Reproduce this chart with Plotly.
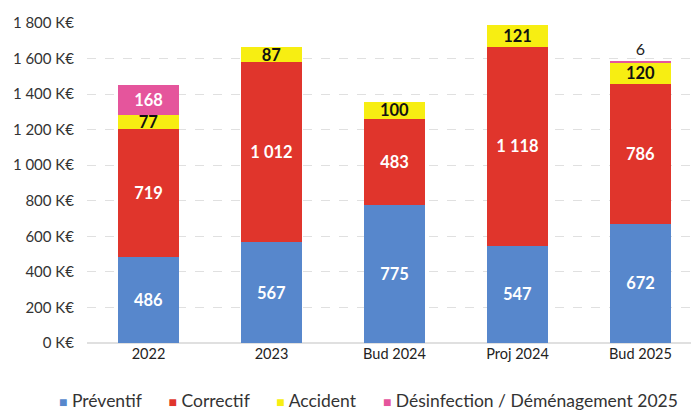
import plotly.graph_objects as go

categories = ['2022', '2023', 'Bud 2024', 'Proj 2024', 'Bud 2025']
preventif = [486, 567, 775, 547, 672]
correctif = [719, 1012, 483, 1118, 786]
accident = [77, 87, 100, 121, 120]
desinfection = [168, None, None, None, 6]

tick_vals = [0, 200, 400, 600, 800, 1000, 1200, 1400, 1600, 1800]
tick_text = ['0 K€', '200 K€', '400 K€', '600 K€', '800 K€', '1 000 K€',
             '1 200 K€', '1 400 K€', '1 600 K€', '1 800 K€']

FONT = 'Lato, Open Sans, sans-serif'

series = [
    ('Préventif', preventif, '#5787cc', 'white', 'inside'),
    ('Correctif', correctif, '#e0352c', 'white', 'inside'),
    ('Accident', accident, '#f7ee12', '#111111', 'inside'),
    ('Désinfection / Déménagement 2025', desinfection, '#e5559c', 'white',
     ['inside', 'inside', 'inside', 'inside', 'outside']),
]


def fmt(v):
    if v is None:
        return ''
    return f'{v:,}'.replace(',', ' ')


fig = go.Figure()
for name, values, color, text_color, positions in series:
    fig.add_trace(go.Bar(
        name=name,
        x=categories,
        y=values,
        marker=dict(color=color, line=dict(width=0)),
        text=[fmt(v) for v in values],
        textposition=positions,
        textangle=0,
        insidetextanchor='middle',
        constraintext='none',
        insidetextfont=dict(color=text_color, size=16.5, family=FONT, weight='bold'),
        outsidetextfont=dict(color='#222222', size=16, family=FONT),
        hoverinfo='skip',
        showlegend=False,
    ))

# legend drawn as one text line so the swatch/label spacing stays tight
gap = '\u00a0' * 6
legend_text = gap.join(
    f"<span style='color:{color};font-size:14px'>■</span>\u00a0{name}"
    for name, _, color, _, _ in series
)
fig.add_annotation(
    text=legend_text,
    xref='paper', yref='paper',
    x=0.457, y=-0.18,
    xanchor='center', yanchor='middle',
    showarrow=False,
    font=dict(size=17.5, color='#333333', family=FONT),
)

fig.update_layout(
    barmode='stack',
    bargap=0.5,
    width=699,
    height=412,
    margin=dict(l=79, r=5, t=12, b=77),
    plot_bgcolor='white',
    paper_bgcolor='white',
    font=dict(family=FONT, size=13, color='#333333'),
)
fig.update_xaxes(showgrid=False, showline=False, ticks='', tickfont=dict(size=14.5, color='#222222'))
fig.update_yaxes(
    range=[0, 1800],
    tickvals=tick_vals,
    ticktext=tick_text,
    showgrid=True,
    gridcolor='#e0e0e0',
    griddash='dash',
    zeroline=True,
    zerolinecolor='#e0e0e0',
    ticklabelstandoff=12,
    tickfont=dict(size=15, color='#333333'),
)

fig.write_html('out.html')
